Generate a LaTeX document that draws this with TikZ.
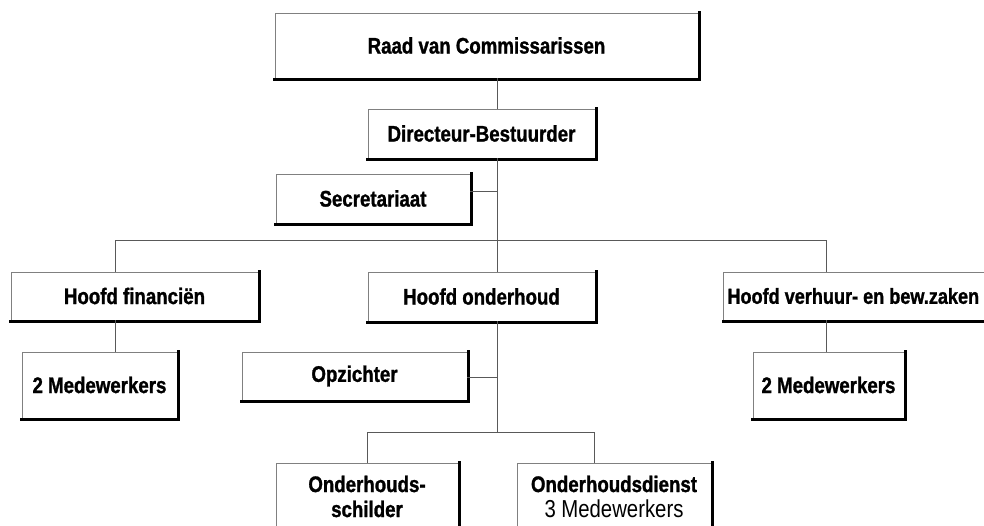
\documentclass[tikz,border=0pt]{standalone}
\usepackage{fontspec}
\setmainfont{Liberation Sans}[FakeStretch=0.83, BoldFeatures={FakeBold=1.2}]
\begin{document}
\begin{tikzpicture}[x=1pt,y=-1pt,
  orgbox/.style={draw=black!50, line width=0.9pt, fill=white, inner sep=0pt,
    font=\fontsize{22.5}{25}\selectfont\bfseries, align=center},
  rim/.style={draw=black, line width=3pt, line cap=rect, line join=miter},
  link/.style={draw=black!65, line width=1pt}]
\useasboundingbox (0,0) rectangle (984,525);
\clip (0,0) rectangle (984,525);

% columns and rows of the connectors
\coordinate (spine) at (497,0);
\coordinate (leftdrop) at (115,0);
\coordinate (rightdrop) at (826,0);
\coordinate (busA) at (0,240);
\coordinate (busB) at (0,432);
\coordinate (secline) at (0,191);
\coordinate (opzline) at (0,377);
\coordinate (subdrop) at (594,0);

% boxes
\node[orgbox, minimum width=423, minimum height=65] (raad) at (486.5,45.5) {Raad van Commissarissen};
\node[orgbox, minimum width=227, minimum height=49] (dir) at (481.5,133.5) {Directeur-Bestuurder};
\node[orgbox, minimum width=194, minimum height=49] (sec) at (373,198.5) {Secretariaat};
\node[orgbox, minimum width=247, minimum height=48] (fin) at (134.5,296) {Hoofd financiën};
\node[orgbox, minimum width=227, minimum height=49] (ond) at (481.5,296.5) {Hoofd onderhoud};
\node[orgbox, anchor=west, inner xsep=4pt, text width=285, align=flush left, minimum height=48,
  font=\fontsize{21.8}{25}\selectfont\bfseries] (ver) at (723,296) {Hoofd verhuur- en bew.zaken};
\node[orgbox, minimum width=155, minimum height=66] (medA) at (99.5,385) {2 Medewerkers};
\node[orgbox, minimum width=151, minimum height=66] (medB) at (828.5,385) {2 Medewerkers};
\node[orgbox, minimum width=225, minimum height=48] (opz) at (354.5,376) {Opzichter};
\node[orgbox, minimum width=182, minimum height=67] (schil) at (367,496.5) {Onderhouds-\\schilder};
\node[orgbox, minimum width=194, minimum height=67] (dienst) at (614,496.5)
  {Onderhoudsdienst\\\fontsize{24.5}{26}\selectfont\mdseries 3 Medewerkers};

% heavy right and bottom rims of the boxes
\foreach \n in {raad,dir,sec,fin,ond,ver,medA,medB,opz,schil,dienst}
  \draw[rim] ([shift={(1,0)}]\n.north east) -- ([shift={(1,1)}]\n.south east) -- ([shift={(0,1)}]\n.south west);

% connectors
\draw[link] (raad.south -| spine) -- (dir.north -| spine);
\draw[link] (dir.south -| spine) -- (ond.north -| spine);
\draw[link] (sec.east |- secline) -- (spine |- secline);
\draw[link] (fin.north -| leftdrop) -- (leftdrop |- busA) -- (rightdrop |- busA) -- (ver.north -| rightdrop);
\draw[link] (fin.south -| leftdrop) -- (medA.north -| leftdrop);
\draw[link] (ver.south -| rightdrop) -- (medB.north -| rightdrop);
\draw[link] (ond.south -| spine) -- (spine |- busB);
\draw[link] (opz.east |- opzline) -- (spine |- opzline);
\draw[link] (schil.north) -- (schil.north |- busB) -- (subdrop |- busB) -- (dienst.north -| subdrop);
\end{tikzpicture}
\end{document}
